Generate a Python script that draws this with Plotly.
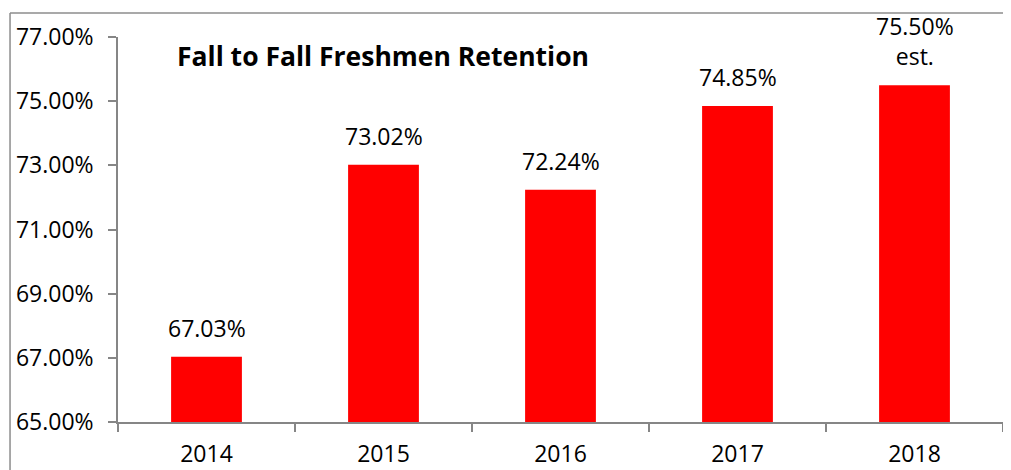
import plotly.graph_objects as go

years = ["2014", "2015", "2016", "2017", "2018"]
retention = [67.03, 73.02, 72.24, 74.85, 75.50]
labels = ["67.03%", "73.02%", "72.24%", "74.85%", "75.50%<br>est."]
y_ticks = [65, 67, 69, 71, 73, 75, 77]
y_tick_labels = ["65.00%", "67.00%", "69.00%", "71.00%", "73.00%", "75.00%", "77.00%"]
title_text = "Fall to Fall Freshmen Retention"

FONT = "Open Sans"
AXIS_GRAY = "#868686"

fig = go.Figure()
fig.add_trace(go.Bar(
    x=years, y=retention,
    marker=dict(color="#FF0000", line=dict(width=0)),
    width=0.4,
    hoverinfo="skip",
))

for i, (v, t) in enumerate(zip(retention, labels)):
    fig.add_annotation(
        x=i, y=v, text=t, showarrow=False,
        xref="x", yref="y", xanchor="center", yanchor="bottom",
        yshift=11,
        font=dict(family=FONT, size=23, color="#000000"),
    )

# page body has an 8px default margin, so the figure is sized 8px smaller
fig.update_layout(
    width=1003, height=462,
    margin=dict(l=110, r=8, t=29, b=48, autoexpand=False),
    paper_bgcolor="white", plot_bgcolor="white",
    showlegend=False,
    title=dict(
        text="<b>" + title_text + "</b>",
        x=0.0667, xref="paper", xanchor="left",
        y=0.95, yref="paper", yanchor="middle",
        font=dict(family=FONT, size=26.5, color="#000000"),
    ),
    xaxis=dict(
        type="category",
        categoryorder="array", categoryarray=years,
        range=[-0.5, len(years) - 0.5],
        showgrid=False, zeroline=False,
        showline=True, linecolor=AXIS_GRAY, linewidth=1.5,
        ticks="outside", ticklen=8, tickcolor=AXIS_GRAY, tickwidth=1.5,
        tickson="boundaries",
        tickangle=0,
        ticklabelstandoff=11,
        tickfont=dict(family=FONT, size=23, color="#000000"),
    ),
    yaxis=dict(
        range=[65, 77],
        tickvals=y_ticks, ticktext=y_tick_labels,
        showgrid=False, zeroline=False,
        showline=True, linecolor=AXIS_GRAY, linewidth=1.5,
        ticks="outside", ticklen=8, tickcolor=AXIS_GRAY, tickwidth=1.5,
        ticklabelstandoff=10,
        tickfont=dict(family=FONT, size=23, color="#000000"),
    ),
)

# chart-area frame (left and top edges visible in the reference crop)
fig.add_shape(type="line", xref="paper", yref="paper",
              x0=-0.122, x1=-0.122, y0=-0.2, y1=1.0623,
              line=dict(color="#8c8c8c", width=1.5))
fig.add_shape(type="line", xref="paper", yref="paper",
              x0=-0.122, x1=1.05, y0=1.0623, y1=1.0623,
              line=dict(color="#8c8c8c", width=1.5))

fig.write_html("out.html")
